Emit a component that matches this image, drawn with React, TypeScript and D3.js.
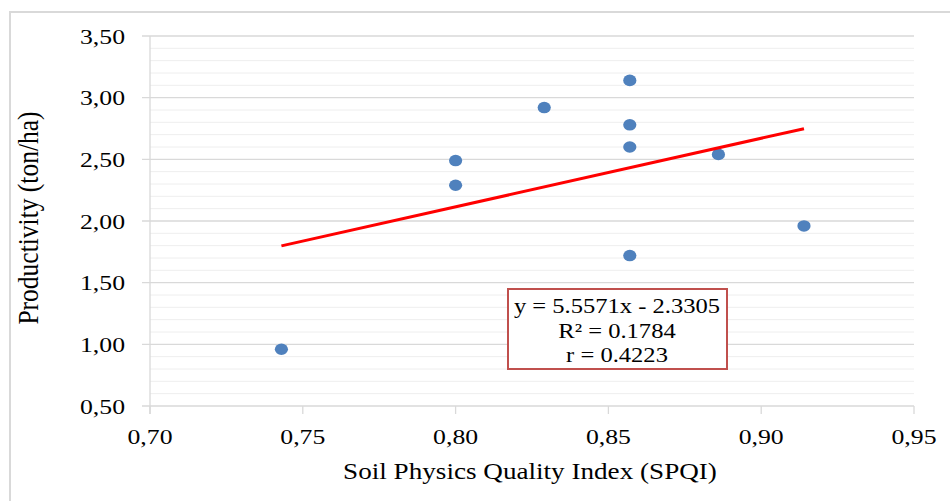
import React from "react";
import * as d3 from "d3";

// SPQI vs productivity
const spqi = [0.743, 0.8, 0.8, 0.829, 0.857, 0.857, 0.857, 0.857, 0.886, 0.914];
const productivity = [0.96, 2.49, 2.29, 2.92, 3.14, 2.78, 2.6, 1.72, 2.54, 1.96];
const xTicks = [0.7, 0.75, 0.8, 0.85, 0.9, 0.95];
const yTicks = [0.5, 1.0, 1.5, 2.0, 2.5, 3.0, 3.5];
const yMinor = d3.range(6, 35).map((d) => d / 10);
const slope = 5.5571;
const intercept = -2.3305;
const boxLines = ["y = 5.5571x - 2.3305", "R² = 0.1784", "r = 0.4223"];

const W = 950;
const H = 501;
const SX = 1.17; // the original picture is stretched a bit horizontally
const font = "'Liberation Serif', 'Times New Roman', serif";
const fmt = (v: number) => v.toFixed(2).replace(".", ",");

export default function App() {
  const x = d3.scaleLinear().domain([0.7, 0.95]).range([150, 914]);
  const y = d3.scaleLinear().domain([0.5, 3.5]).range([406, 36]);

  const x0 = d3.min(spqi)!;
  const x1 = d3.max(spqi)!;
  const trend = d3.line<number>()
    .x((d) => x(d))
    .y((d) => y(slope * d + intercept))([x0, x1]);

  return (
    <svg width={W} height={H} style={{position: "absolute", left: 0, top: 0, background: "#fff"}}
      fontFamily={font}>
      <rect x={10} y={12} width={W + 20} height={H + 20} fill="#fff" stroke="#d9d9d9" strokeWidth={2} />

      {/* minor grid */}
      {yMinor.filter((v) => Math.abs(v * 2 - Math.round(v * 2)) > 1e-6).map((v) => (
        <line key={"m" + v} x1={150} x2={914} y1={y(v)} y2={y(v)} stroke="#eeeeee" strokeWidth={1} />
      ))}
      {/* major grid */}
      {yTicks.map((v) => (
        <line key={"g" + v} x1={142} x2={914} y1={y(v)} y2={y(v)} stroke="#d9d9d9" strokeWidth={1.3} />
      ))}
      <line x1={150} x2={150} y1={36} y2={414} stroke="#d9d9d9" strokeWidth={1.3} />
      {xTicks.map((v) => (
        <line key={"t" + v} x1={x(v)} x2={x(v)} y1={406} y2={414} stroke="#d9d9d9" strokeWidth={1.3} />
      ))}

      {/* tick labels */}
      {yTicks.map((v) => (
        <g key={"yl" + v} transform={`translate(125,${y(v)}) scale(${SX},1)`}>
          <text textAnchor="end" dy="0.35em" fontSize={22} fill="#000">{fmt(v)}</text>
        </g>
      ))}
      {xTicks.map((v) => (
        <g key={"xl" + v} transform={`translate(${x(v)},444) scale(${SX},1)`}>
          <text textAnchor="middle" fontSize={22} fill="#000">{fmt(v)}</text>
        </g>
      ))}

      {/* axis titles */}
      <g transform={`translate(530,479) scale(${SX},1)`}>
        <text textAnchor="middle" fontSize={23.2} fill="#000">Soil Physics Quality Index (SPQI)</text>
      </g>
      <g transform={`translate(38,218) scale(${SX},1) rotate(-90)`}>
        <text textAnchor="middle" fontSize={25.5} fill="#000">Productivity (ton/ha)</text>
      </g>

      {/* points */}
      {spqi.map((v, i) => (
        <ellipse key={"p" + i} cx={x(v)} cy={y(productivity[i])} rx={6.6} ry={5.8} fill="#4f81bd" />
      ))}

      {/* trendline */}
      <path d={trend!} fill="none" stroke="#ff0000" strokeWidth={3} />

      {/* equation box */}
      <rect x={508} y={289} width={219} height={80} fill="#fff" stroke="#c0504d" strokeWidth={2} />
      {boxLines.map((t, i) => (
        <g key={"b" + i} transform={`translate(617,${313 + i * 24.5}) scale(${SX},1)`}>
          <text textAnchor="middle" fontSize={21} fill="#000">{t}</text>
        </g>
      ))}
    </svg>
  );
}
